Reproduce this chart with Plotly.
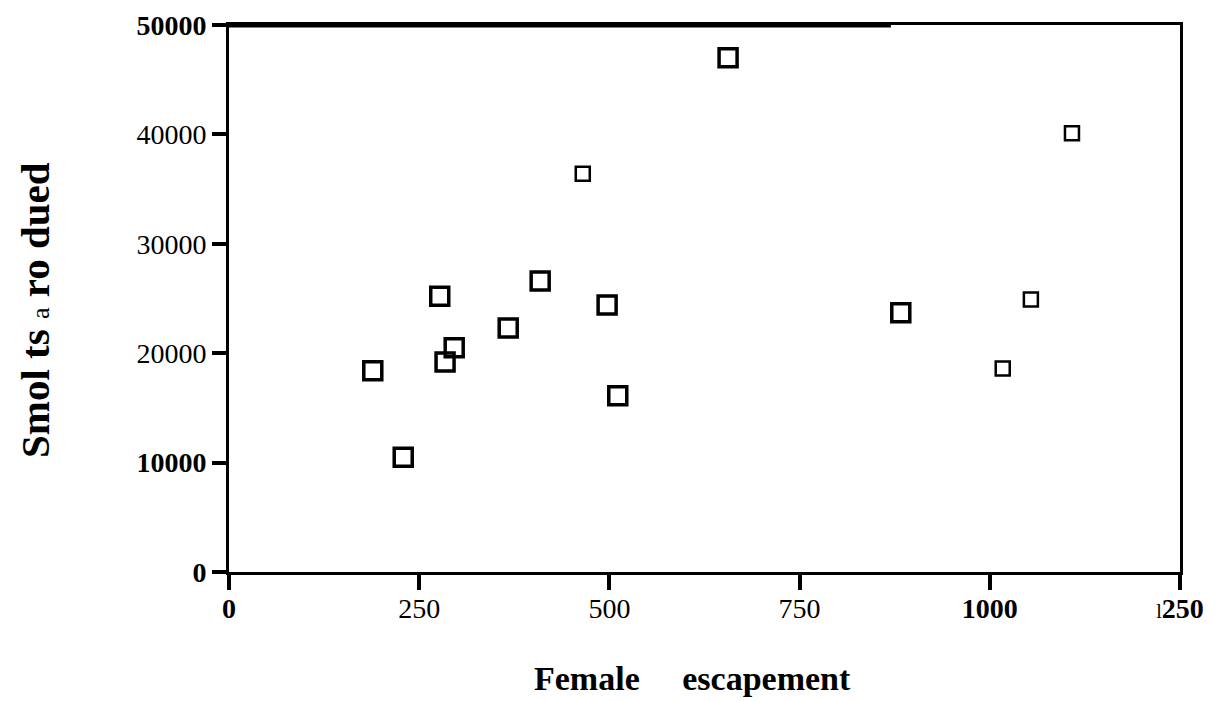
import plotly.graph_objects as go

# Data
female_escapement = [189, 229, 277, 284, 296, 367, 409, 465, 497, 511, 656, 883, 1017, 1054, 1108]
smolts_produced = [18400, 10500, 25200, 19200, 20500, 22300, 26600, 36400, 24400, 16100, 47000, 23700, 18600, 24900, 40100]

y_tickvals = [0, 10000, 20000, 30000, 40000, 50000]
y_ticktext = ["<b>0</b>", "<b>10000</b>", "20000", "30000", "40000", "<b>50000</b>"]
x_tickvals = [0, 250, 500, 750, 1000, 1250]
x_ticktext = ["<b>0</b>", "250", "500", "750", "<b>1000</b>", "<span style='font-size:20px'>l</span><b>250</b>"]

x_title = "<b>Female\u00a0\u00a0\u00a0\u00a0\u00a0escapement</b>"
y_title = "<b>Smol ts</b> <span style='font-size:26px'>a</span> <b>ro dued</b>"

# Styles (per-point marker look, small markers are thinner)
small_idx = {7, 12, 13, 14}
sizes = [14 if i in small_idx else 18 for i in range(len(female_escapement))]
widths = [2.5 if i in small_idx else 3.5 for i in range(len(female_escapement))]

fig = go.Figure()
fig.add_trace(go.Scatter(
    x=female_escapement, y=smolts_produced, mode="markers",
    marker=dict(symbol="square-open", size=sizes, color="black", opacity=1,
                line=dict(color="black", width=widths)),
    showlegend=False, hoverinfo="x+y",
))

font_family = "Liberation Serif, Times New Roman, serif"

fig.update_layout(
    width=1220, height=701,
    paper_bgcolor="white", plot_bgcolor="white",
    margin=dict(l=221, r=48, t=17, b=137),
    font=dict(family=font_family, color="black", size=28),
    xaxis=dict(
        range=[0, 1250], tickvals=x_tickvals, ticktext=x_ticktext,
        showgrid=False, zeroline=False, automargin=False,
        showline=True, linecolor="black", linewidth=3, mirror=True,
        ticks="outside", ticklen=15, tickwidth=4, tickcolor="black",
        ticklabelstandoff=-6,
        tickfont=dict(size=28, family=font_family),
    ),
    yaxis=dict(
        range=[0, 50000], tickvals=y_tickvals, ticktext=y_ticktext,
        showgrid=False, zeroline=False, automargin=False,
        showline=True, linecolor="black", linewidth=3, mirror=True,
        ticks="outside", ticklen=14, tickwidth=4, tickcolor="black",
        tickfont=dict(size=28, family=font_family),
    ),
    annotations=[
        dict(text=x_title, xref="paper", yref="paper", x=0.487, y=-0.194,
             xanchor="center", yanchor="middle", showarrow=False,
             font=dict(size=34, family=font_family, color="black")),
        dict(text=y_title, xref="paper", yref="paper", x=-0.204, y=0.479,
             xanchor="center", yanchor="middle", showarrow=False, textangle=-90,
             font=dict(size=41, family=font_family, color="black")),
    ],
)

# Thicker segment of the top frame on its left part, as in the scan
fig.add_shape(type="line", xref="x", yref="y", x0=0, x1=870, y0=50000, y1=50000,
              line=dict(color="black", width=5))
# Small gap in the bottom axis line near the origin, as in the scan
fig.add_shape(type="line", xref="x", yref="y", x0=12, x1=37, y0=0, y1=0,
              line=dict(color="white", width=6), layer="above")

fig.write_html("out.html")
